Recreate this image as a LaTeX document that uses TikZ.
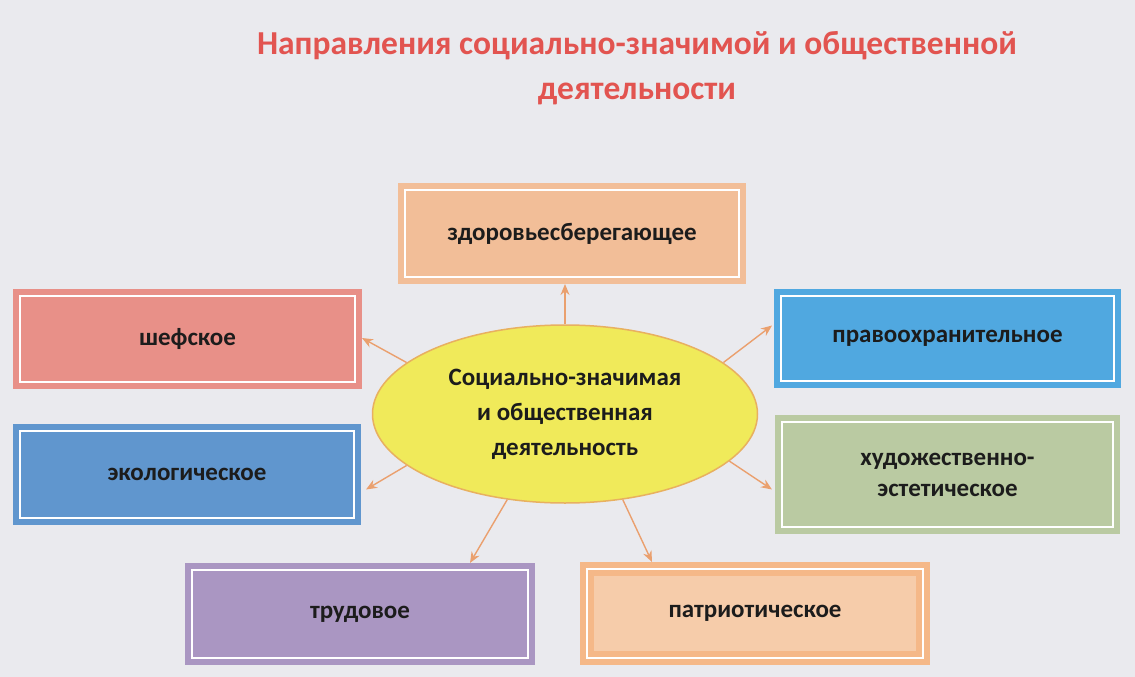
\documentclass[tikz,border=0pt]{standalone}
\usepackage{fontspec}
\setmainfont{Carlito}
\usetikzlibrary{shapes.geometric,arrows.meta}
\definecolor{bg}{RGB}{234,234,238}
\definecolor{titlered}{RGB}{226,84,80}
\definecolor{arrc}{RGB}{234,160,110}
\definecolor{cTop}{RGB}{242,190,152}
\definecolor{cTopB}{RGB}{245,180,140}
\definecolor{cSef}{RGB}{232,144,136}
\definecolor{cEco}{RGB}{96,150,206}
\definecolor{cPravo}{RGB}{80,168,224}
\definecolor{cHud}{RGB}{186,202,162}
\definecolor{cTrud}{RGB}{170,150,194}
\definecolor{cPatrB}{RGB}{245,184,136}
\definecolor{cPatr}{RGB}{246,204,170}
\definecolor{ellfill}{RGB}{240,234,90}
\definecolor{ellline}{RGB}{232,176,96}
\definecolor{txt}{RGB}{28,28,28}
\tikzset{
  box/.style={rectangle, inner sep=0pt, outer sep=0pt, align=center,
    font=\fontsize{25}{31}\selectfont\bfseries, text=txt},
  inner/.style={draw=white, line width=2.5pt},
  arr/.style={draw=arrc, line width=1.4pt, -{Stealth[length=11pt,width=9pt]}},
}
\begin{document}
\begin{tikzpicture}[x=1pt,y=-1pt]
\fill[bg] (0,0) rectangle (1135,677);
\useasboundingbox (0,0) rectangle (1135,677);
% title
\node[font=\fontsize{33.5}{45}\selectfont\bfseries, text=titlered, align=center] (title) at (637,68)
  {Направления социально-значимой и общественной\\деятельности};
% boxes
\node[box, fill=cTop, minimum width=348pt, minimum height=101pt] (top) at (572,233.5) {здоровьесберегающее};
\node[box, fill=cSef, minimum width=349pt, minimum height=100pt] (sef) at (187.5,339) {шефское};
\node[box, fill=cEco, minimum width=348pt, minimum height=101pt] (eco) at (187,474.5) {экологическое};
\node[box, fill=cPravo, minimum width=347pt, minimum height=99pt] (pravo) at (947.5,338.5) {правоохранительное};
\node[box, fill=cHud, minimum width=345pt, minimum height=119pt] (hud) at (947.5,474.5) {художественно-\\эстетическое};
\node[box, fill=cTrud, minimum width=350pt, minimum height=102pt] (trud) at (360,614) {трудовое};
\node[box, fill=cPatrB, minimum width=350pt, minimum height=103pt] (patr) at (755,613.5) {};
\fill[cPatr] ([xshift=14pt,yshift=-14pt]patr.north west) rectangle ([xshift=-14pt,yshift=14pt]patr.south east);
\node[box] (patrt) at (patr.center) {патриотическое};
% inner white frames
\foreach \b in {top,sef,eco,pravo,hud,trud,patr}
  \draw[inner] ([xshift=7pt,yshift=-7pt]\b.north west) rectangle ([xshift=-7pt,yshift=7pt]\b.south east);
% ellipse
\node[ellipse, draw=ellline, line width=1.5pt, fill=ellfill, minimum width=385pt, minimum height=178pt,
  inner sep=0pt, align=center, font=\fontsize{25}{35}\selectfont\bfseries, text=txt] (ell) at (565,414)
  {Социально-значимая\\и общественная\\деятельность};
% arrows
\draw[arr] (ell.north) -- ([xshift=-7pt]top.south);
\draw[arr] (ell.162) -- ([yshift=1pt]sef.east);
\draw[arr] (ell.198) -- ([xshift=5pt,yshift=-15pt]eco.east);
\draw[arr] (ell.18) -- ([xshift=-2pt,yshift=13pt]pravo.west);
\draw[arr] (ell.344) -- ([xshift=-3pt,yshift=-15pt]hud.west);
\draw[arr] (ell.236) -- ([xshift=110pt]trud.north);
\draw[arr] (ell.304) -- ([xshift=-103pt]patr.north);
\end{tikzpicture}
\end{document}
